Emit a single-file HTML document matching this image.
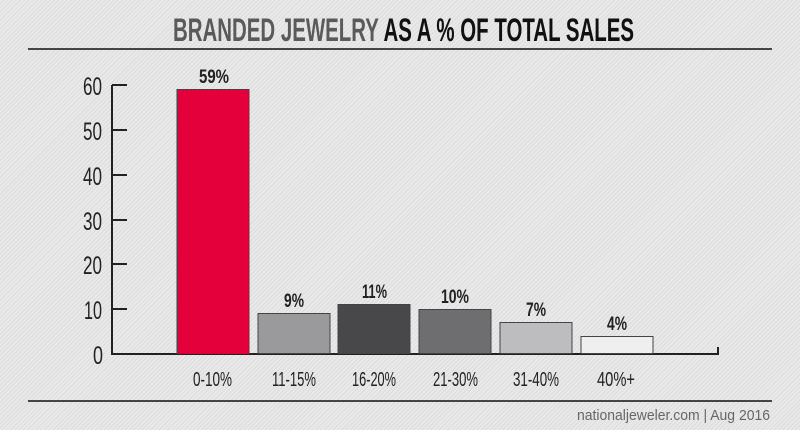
<!DOCTYPE html>
<html><head><meta charset="utf-8"><style>
html,body{margin:0;padding:0;}
body{width:800px;height:430px;overflow:hidden;background-color:#e6e6e6;background-image:repeating-linear-gradient(135deg,#e9e9e9 0 2px,#dcdcdc 2px 3px);}
svg{display:block}
</style></head><body>
<svg width="800" height="430" xmlns="http://www.w3.org/2000/svg" font-family="Liberation Sans Narrow, Liberation Sans, sans-serif">
<text x="173" y="41" font-size="32" font-weight="bold" textLength="461" lengthAdjust="spacingAndGlyphs"><tspan fill="#5a5a5a">BRANDED JEWELRY </tspan><tspan fill="#111">AS A % OF TOTAL SALES</tspan></text>
<line x1="28" y1="49" x2="772" y2="49" stroke="#111" stroke-width="1.5"/>
<line x1="28" y1="401" x2="772" y2="401" stroke="#111" stroke-width="1.5"/>
<g stroke="#222" stroke-width="2" fill="none">
<line x1="112" y1="85" x2="112" y2="354"/>
<line x1="111" y1="354" x2="719" y2="354"/>
<line x1="718" y1="347" x2="718" y2="355"/>
<line x1="112" y1="85" x2="127" y2="85"/>
<line x1="112" y1="130" x2="127" y2="130"/>
<line x1="112" y1="175" x2="127" y2="175"/>
<line x1="112" y1="220" x2="127" y2="220"/>
<line x1="112" y1="264" x2="127" y2="264"/>
<line x1="112" y1="309" x2="127" y2="309"/>
</g>
<g font-size="25" fill="#222" lengthAdjust="spacingAndGlyphs">
<text x="83" y="95" textLength="19" lengthAdjust="spacingAndGlyphs">60</text>
<text x="83" y="140" textLength="19" lengthAdjust="spacingAndGlyphs">50</text>
<text x="83" y="185" textLength="19" lengthAdjust="spacingAndGlyphs">40</text>
<text x="83" y="230" textLength="19" lengthAdjust="spacingAndGlyphs">30</text>
<text x="83" y="274" textLength="19" lengthAdjust="spacingAndGlyphs">20</text>
<text x="84" y="319" textLength="18" lengthAdjust="spacingAndGlyphs">10</text>
<text x="93" y="364" textLength="10" lengthAdjust="spacingAndGlyphs">0</text>
</g>
<g stroke="#444" stroke-width="1">
<rect x="177" y="89.5" width="72" height="264" fill="#e4003a"/>
<rect x="258" y="313.5" width="72" height="40" fill="#9a9a9c"/>
<rect x="338" y="304.5" width="72" height="49" fill="#48484a"/>
<rect x="419" y="309.5" width="72" height="44" fill="#6e6e70"/>
<rect x="500" y="322.5" width="72" height="31" fill="#bdbdbf"/>
<rect x="581" y="336.5" width="72" height="17" fill="#efefef"/>
</g>
<g font-size="19" font-weight="bold" fill="#222">
<text x="199" y="83" textLength="30" lengthAdjust="spacingAndGlyphs">59%</text>
<text x="284" y="307" textLength="20" lengthAdjust="spacingAndGlyphs">9%</text>
<text x="362" y="298" textLength="25" lengthAdjust="spacingAndGlyphs">11%</text>
<text x="441" y="303" textLength="28" lengthAdjust="spacingAndGlyphs">10%</text>
<text x="526" y="316" textLength="20" lengthAdjust="spacingAndGlyphs">7%</text>
<text x="607" y="330" textLength="20" lengthAdjust="spacingAndGlyphs">4%</text>
</g>
<g font-size="20" fill="#222">
<text x="193" y="386" textLength="39" lengthAdjust="spacingAndGlyphs">0-10%</text>
<text x="272" y="386" textLength="44" lengthAdjust="spacingAndGlyphs">11-15%</text>
<text x="352" y="386" textLength="44" lengthAdjust="spacingAndGlyphs">16-20%</text>
<text x="433" y="386" textLength="45" lengthAdjust="spacingAndGlyphs">21-30%</text>
<text x="513" y="386" textLength="46" lengthAdjust="spacingAndGlyphs">31-40%</text>
<text x="597" y="386" textLength="38" lengthAdjust="spacingAndGlyphs">40%+</text>
</g>
<text x="577" y="420" font-family="Liberation Sans, sans-serif" font-size="15" fill="#666" textLength="193" lengthAdjust="spacingAndGlyphs">nationaljeweler.com | Aug 2016</text>
</svg>
</body></html>
